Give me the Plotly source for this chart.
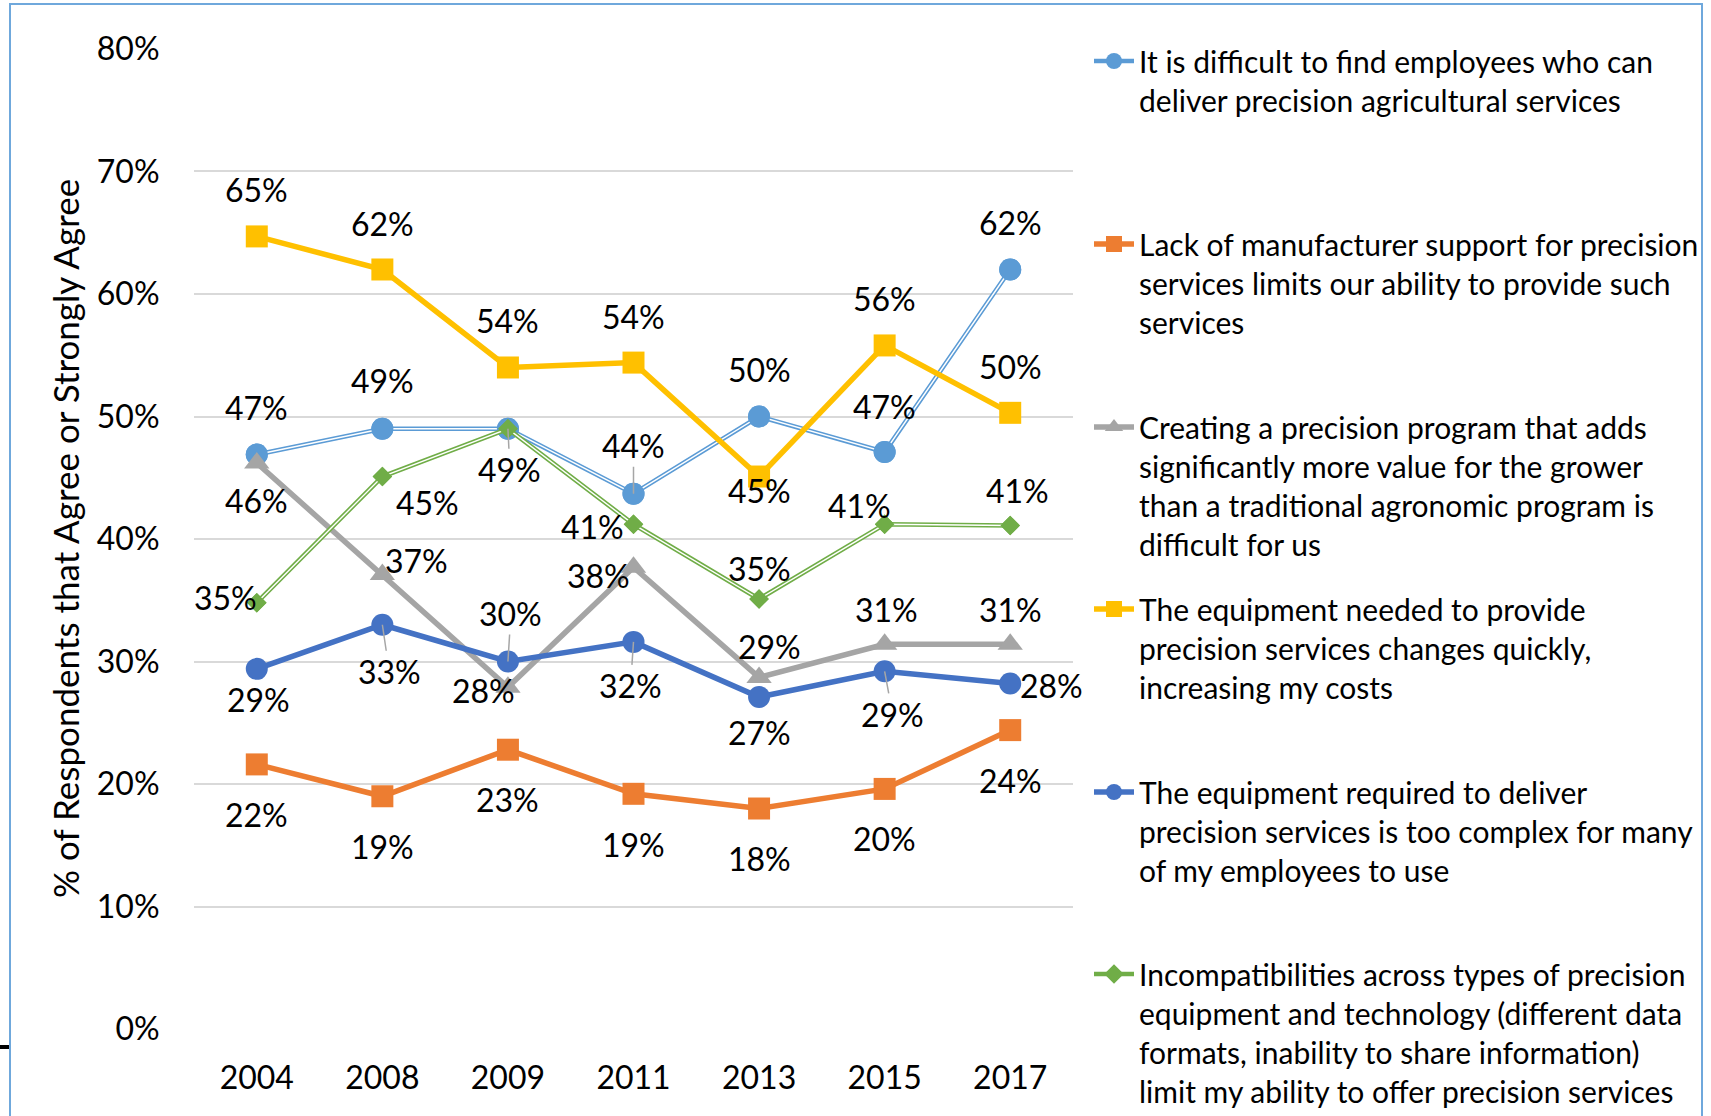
import plotly.graph_objects as go

# Survey years (category axis)
years = ["2004", "2008", "2009", "2011", "2013", "2015", "2017"]

# Share of respondents that agree or strongly agree, per statement
find_employees = [0.469, 0.490, 0.490, 0.437, 0.500, 0.471, 0.620]
manufacturer_support = [0.216, 0.190, 0.228, 0.192, 0.180, 0.196, 0.244]
precision_program = [0.462, 0.371, 0.279, 0.377, 0.287, 0.314, 0.314]
equipment_changes = [0.647, 0.620, 0.540, 0.544, 0.451, 0.558, 0.503]
equipment_complex = [0.294, 0.330, 0.300, 0.316, 0.271, 0.292, 0.282]
incompatibilities = [0.348, 0.451, 0.490, 0.412, 0.351, 0.412, 0.411]

# Legend texts
names = [
    "It is difficult to find employees who can<br>deliver precision agricultural services",
    "Lack of manufacturer support for precision<br>services limits our ability to provide such<br>services",
    "Creating a precision program that adds<br>significantly more value for the grower<br>than a traditional agronomic program is<br>difficult for us",
    "The equipment needed to provide<br>precision services changes quickly,<br>increasing my costs",
    "The equipment required to deliver<br>precision services is too complex for many<br>of my employees to use",
    "Incompatibilities across types of precision<br>equipment and technology (different data<br>formats, inability to share information)<br>limit my ability to offer precision services",
]

series = [find_employees, manufacturer_support, precision_program,
          equipment_changes, equipment_complex, incompatibilities]

# ---- styling -------------------------------------------------------------
W, H = 1711, 1116
PL, PR, PT, PB = 194, 1073, 48, 1030          # plot area in pixels
FONT = "Lato, 'Open Sans', sans-serif"

colors = ["#5B9BD5", "#ED7D31", "#A5A5A5", "#FFC000", "#4472C4", "#70AD47"]
symbols = ["circle", "square", "triangle-up", "square", "circle", "diamond"]
msizes = [22, 22, 22, 22, 22, 15]
double_line = [True, False, False, False, False, True]

# label offsets (dx, dy in px, +dy = downwards) and leader-line flags
label_offsets = [
    [(0, -47), (0, -48), (2, 41), (0, -48), (0, -47), (0, -46), (0, -47)],
    [(0, 50), (0, 50), (0, 50), (0, 51), (0, 50), (0, 50), (0, 50)],
    [(0, 37), (34, -14), (-24, 3), (-35, 8), (10, -31), (2, -35), (0, -35)],
    [(0, -47), (0, -46), (0, -47), (0, -46), (0, 14), (0, -47), (0, -46)],
    [(2, 31), (7, 47), (3, -48), (-3, 44), (0, 35), (8, 43), (41, 2)],
    [(-31, -5), (45, 26), (2, 41), (-41, 2), (0, -31), (-25, -19), (7, -35)],
]
leaders = [
    [False, False, True, True, False, False, False],
    [False] * 7,
    [False] * 7,
    [False] * 7,
    [False, True, True, True, False, True, False],
    [False, False, True, False, False, False, False],
]

# legend rows: first-line centre in px
legend_rows = [62, 245, 428, 610, 793, 975]


def px_x(p):
    return (p - PL) / (PR - PL)


def px_y(p):
    return (PB - p) / (PB - PT)


fig = go.Figure()

for i, vals in enumerate(series):
    lg = "legend" if i == 0 else f"legend{i + 1}"
    lw = 4.6 if double_line[i] else 5.5
    fig.add_trace(go.Scatter(
        x=years, y=vals, name=names[i], mode="lines+markers",
        line=dict(color=colors[i], width=lw),
        marker=dict(symbol=symbols[i], size=msizes[i], color=colors[i],
                    line=dict(width=0)),
        legend=lg, hoverinfo="skip",
    ))
    if double_line[i]:
        # white core turns the thick stroke into a double line
        fig.add_trace(go.Scatter(
            x=years, y=vals, mode="lines", showlegend=False,
            line=dict(color="white", width=1.4), hoverinfo="skip",
        ))
        fig.add_trace(go.Scatter(
            x=years, y=vals, mode="markers", showlegend=False,
            marker=dict(symbol=symbols[i], size=msizes[i], color=colors[i],
                        line=dict(width=0)),
            hoverinfo="skip",
        ))

# data labels (x given as category index); coinciding labels drawn once
annotations = []
placed = set()
for i, vals in enumerate(series):
    for j, v in enumerate(vals):
        dx, dy = label_offsets[i][j]
        text = f"{round(v * 100)}%"
        key = (j, round(v, 3), dx, dy, text)
        if key in placed:
            continue
        placed.add(key)
        lead = leaders[i][j]
        annotations.append(dict(
            x=j, y=v, xref="x", yref="y", text=text,
            showarrow=True, ax=dx, ay=dy, axref="pixel", ayref="pixel",
            arrowhead=0, arrowwidth=1.5, standoff=0,
            arrowcolor="#A6A6A6" if lead else "rgba(0,0,0,0)",
            font=dict(family=FONT, size=32, color="#000000"),
        ))

# y-axis title
annotations.append(dict(
    x=px_x(65), y=px_y(539), xref="paper", yref="paper",
    text="% of Respondents that Agree or Strongly Agree",
    textangle=-90, showarrow=False, xanchor="center", yanchor="middle",
    font=dict(family=FONT, size=35, color="#000000"),
))

layout_legends = {}
for i, row in enumerate(legend_rows):
    key = "legend" if i == 0 else f"legend{i + 1}"
    layout_legends[key] = dict(
        x=px_x(1089), y=px_y(row - 27), xanchor="left", yanchor="top",
        valign="top", bgcolor="rgba(0,0,0,0)", borderwidth=0,
        font=dict(family=FONT, size=30, color="#000000"),
        itemwidth=40,
    )

fig.update_layout(
    width=W, height=H,
    margin=dict(l=PL, r=W - PR, t=PT, b=H - PB, autoexpand=False),
    paper_bgcolor="white", plot_bgcolor="white",
    showlegend=True,
    annotations=annotations,
    font=dict(family=FONT, color="#000000"),
    xaxis=dict(
        type="category", range=[-0.5, 6.5], showgrid=False, showline=False,
        zeroline=False, ticks="outside", ticklen=20,
        tickcolor="rgba(0,0,0,0)",
        tickfont=dict(family=FONT, size=32, color="#000000"),
    ),
    yaxis=dict(
        range=[-0.0008, 0.8008], dtick=0.1, tick0=0, tickformat=".0%",
        showgrid=True, gridcolor="#D9D9D9", gridwidth=2, zeroline=False,
        showline=False, ticks="outside", ticklen=27,
        tickcolor="rgba(0,0,0,0)",
        tickfont=dict(family=FONT, size=32, color="#000000"),
    ),
    shapes=[
        dict(type="rect", xref="paper", yref="paper",
             x0=px_x(10), x1=px_x(1702), y0=px_y(1130), y1=px_y(4),
             line=dict(color="#6FA8DC", width=2), fillcolor="rgba(0,0,0,0)",
             layer="below"),
        dict(type="line", xref="paper", yref="paper",
             x0=px_x(0), x1=px_x(9), y0=px_y(1047), y1=px_y(1047),
             line=dict(color="#000000", width=4)),
    ],
    **layout_legends,
)

fig.write_html("out.html")
